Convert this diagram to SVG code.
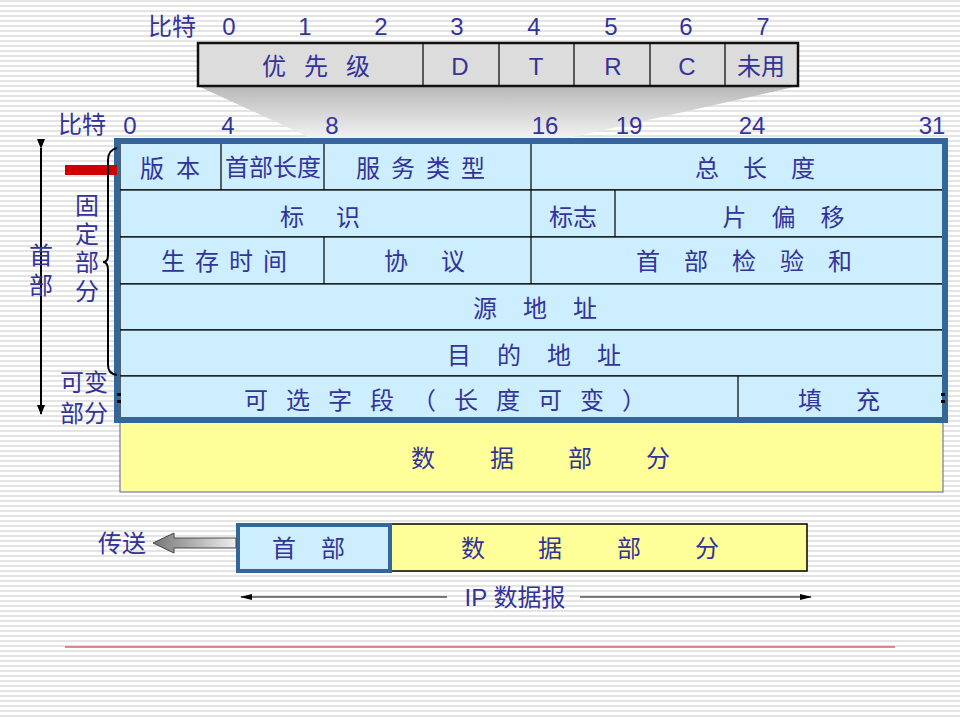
<svg xmlns="http://www.w3.org/2000/svg" width="960" height="720" viewBox="0 0 960 720">
<defs>
<pattern id="stripes" width="8" height="5" patternUnits="userSpaceOnUse"><rect width="8" height="5" fill="#ffffff"/><rect y="0" width="8" height="2" fill="#e4e4e4"/></pattern>
<linearGradient id="trap" x1="0" y1="0" x2="0" y2="1"><stop offset="0" stop-color="#b8b8b8"/><stop offset="1" stop-color="#f4f4f4"/></linearGradient>
<linearGradient id="garrow" x1="0" y1="0" x2="1" y2="0"><stop offset="0" stop-color="#777"/><stop offset="1" stop-color="#eee"/></linearGradient>
<marker id="ah" markerWidth="10" markerHeight="10" refX="9" refY="5" orient="auto" markerUnits="userSpaceOnUse"><path d="M0,1 L10,5 L0,9 z" fill="#000"/></marker>
<marker id="ahs" markerWidth="12" markerHeight="8" refX="11" refY="4" orient="auto" markerUnits="userSpaceOnUse"><path d="M0,1 L12,4 L0,7 z" fill="#000"/></marker>
</defs>
<style>
text{font-family:"Liberation Sans","Noto Sans CJK SC",sans-serif;fill:#333399;font-size:24px;text-anchor:middle;dominant-baseline:central}
.c{fill:#cceeff;stroke:#000;stroke-width:1.2}
.ln{stroke:#000;stroke-width:1.2}
</style>
<rect width="960" height="720" fill="url(#stripes)"/>
<line x1="65" y1="647" x2="895" y2="647" stroke="#b22222" stroke-width="1.2"/>

<g id="tos">
<polygon points="198,86 798,86 560,140 315,140" fill="url(#trap)"/>
<rect x="198" y="43" width="600" height="43" fill="#dcdcdc" stroke="#111" stroke-width="2.5"/>
<line class="ln" x1="423" y1="43" x2="423" y2="86"/><line class="ln" x1="499" y1="43" x2="499" y2="86"/><line class="ln" x1="574" y1="43" x2="574" y2="86"/><line class="ln" x1="650" y1="43" x2="650" y2="86"/><line class="ln" x1="725" y1="43" x2="725" y2="86"/>
<text x="325" y="66" letter-spacing="18">优先级</text><text x="460" y="66">D</text><text x="536" y="66">T</text><text x="613" y="66">R</text><text x="687" y="66">C</text><text x="761" y="66">未用</text>
<text x="172" y="26">比特</text><text x="229" y="26">0</text><text x="305" y="26">1</text><text x="381" y="26">2</text><text x="457" y="26">3</text><text x="534" y="26">4</text><text x="611" y="26">5</text><text x="686" y="26">6</text><text x="763" y="26">7</text>
</g>

<g id="bits">
<text x="82" y="124">比特</text><text x="130" y="125">0</text><text x="228" y="125">4</text><text x="332" y="125">8</text><text x="545" y="125">16</text><text x="629" y="125">19</text><text x="752" y="125">24</text><text x="932" y="125">31</text>
</g>

<g id="data">
<rect x="120" y="420" width="823" height="72" fill="#ffff99" stroke="#7777aa" stroke-width="1.2"/>
<text x="423" y="458">数</text><text x="502" y="458">据</text><text x="580" y="458">部</text><text x="658" y="458">分</text>
</g>

<g id="header">
<rect class="c" x="120" y="142" width="823" height="48"/>
<rect class="c" x="120" y="190" width="823" height="47"/>
<rect class="c" x="120" y="237" width="823" height="47"/>
<rect class="c" x="120" y="284" width="823" height="46"/>
<rect class="c" x="120" y="330" width="823" height="46"/>
<rect class="c" x="120" y="376" width="823" height="43"/>
<line class="ln" x1="221" y1="142" x2="221" y2="190"/><line class="ln" x1="324" y1="142" x2="324" y2="190"/><line class="ln" x1="531" y1="142" x2="531" y2="190"/>
<line class="ln" x1="531" y1="190" x2="531" y2="237"/><line class="ln" x1="615" y1="190" x2="615" y2="237"/>
<line class="ln" x1="324" y1="237" x2="324" y2="284"/><line class="ln" x1="531" y1="237" x2="531" y2="284"/>
<line class="ln" x1="738" y1="376" x2="738" y2="419"/>
<rect x="117" y="141" width="828" height="279" fill="none" stroke="#336699" stroke-width="6"/>
<text x="176" y="168" letter-spacing="12">版本</text><text x="273" y="167">首部长度</text><text x="426" y="168" letter-spacing="11">服务类型</text><text x="767" y="168" letter-spacing="24">总长度</text>
<text x="336" y="217" letter-spacing="32">标识</text><text x="796" y="217" letter-spacing="25">片偏移</text><text x="573" y="217">标志</text>
<text x="229" y="261" letter-spacing="10">生存时间</text><text x="441" y="261" letter-spacing="33">协议</text><text x="756" y="261" letter-spacing="24">首部检验和</text>
<text x="548" y="308" letter-spacing="26">源地址</text>
<text x="547" y="355" letter-spacing="26">目的地址</text>
<text x="454" y="400" letter-spacing="18">可选字段（长度可变）</text><text x="856" y="400" letter-spacing="34">填充</text>
<rect x="117" y="393" width="4" height="3" fill="#000"/><rect x="117" y="400" width="4" height="3" fill="#000"/>
<rect x="941" y="393" width="4" height="3" fill="#000"/><rect x="941" y="400" width="4" height="3" fill="#000"/>
</g>

<g id="labels">
<line x1="41" y1="148" x2="41" y2="414" stroke="#000" stroke-width="2" marker-start="url(#ah)" marker-end="url(#ah)"/>
<rect x="65" y="165" width="52" height="10" fill="#cc0000"/>
<path d="M117,148 Q108,150 108,160 L108,255 Q108,262 103,262 Q108,262 108,270 L108,365 Q108,374 117,375" fill="none" stroke="#000" stroke-width="2"/>
<text x="41" y="255">首</text><text x="41" y="285">部</text>
<text x="87" y="205">固</text><text x="87" y="234">定</text><text x="87" y="262">部</text><text x="87" y="291">分</text>
<text x="84" y="382">可变</text><text x="84" y="413">部分</text>
</g>

<g id="datagram">
<rect x="390" y="524" width="417" height="47" fill="#ffff99" stroke="#000" stroke-width="1.5"/>
<rect x="238" y="525" width="152" height="46" fill="#cceeff" stroke="#336699" stroke-width="4"/>
<text x="321" y="548" letter-spacing="25">首部</text>
<text x="473" y="548">数</text><text x="550" y="548">据</text><text x="629" y="548">部</text><text x="707" y="548">分</text>
<polygon points="236,538 174,538 174,533 153,543 174,553 174,548 236,548" fill="url(#garrow)" stroke="#444" stroke-width="1"/>
<text x="122" y="543">传送</text>
</g>

<g id="connectors">
<line x1="447" y1="597" x2="241" y2="597" stroke="#000" stroke-width="1.2" marker-end="url(#ahs)"/>
<line x1="580" y1="597" x2="811" y2="597" stroke="#000" stroke-width="1.2" marker-end="url(#ahs)"/>
<text x="515" y="597">IP 数据报</text>
</g>
</svg>
